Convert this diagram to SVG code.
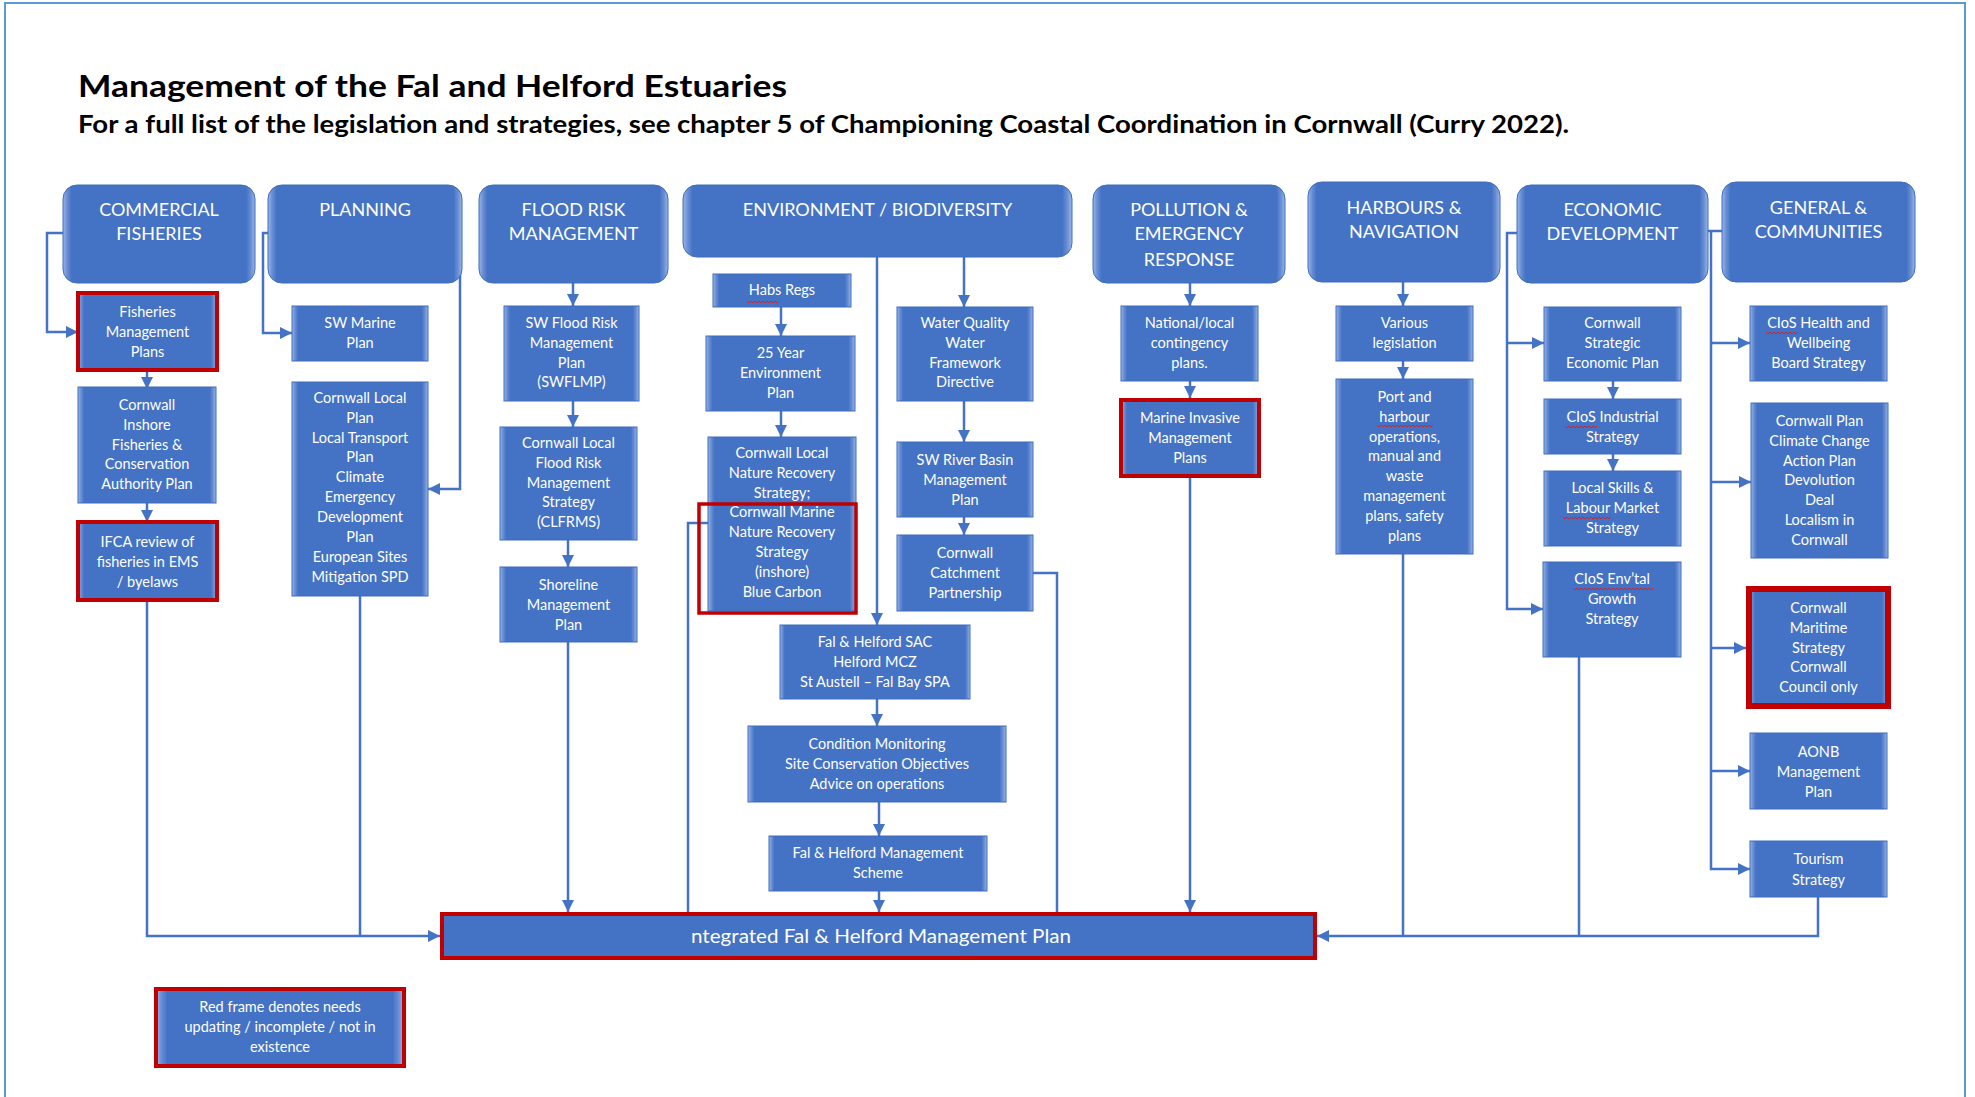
<svg xmlns="http://www.w3.org/2000/svg" width="1975" height="1097" viewBox="0 0 1975 1097">
<defs>
<linearGradient id="bev" x1="0" y1="0" x2="1" y2="0">
<stop offset="0" stop-color="#9DB7E6"/>
<stop offset="0.02" stop-color="#6B91D6"/>
<stop offset="0.045" stop-color="#4472C4"/>
<stop offset="0.955" stop-color="#4472C4"/>
<stop offset="0.98" stop-color="#6B91D6"/>
<stop offset="1" stop-color="#9DB7E6"/>
</linearGradient>
<linearGradient id="bevw" x1="0" y1="0" x2="1" y2="0">
<stop offset="0" stop-color="#9DB7E6"/>
<stop offset="0.012" stop-color="#6B91D6"/>
<stop offset="0.025" stop-color="#4472C4"/>
<stop offset="0.975" stop-color="#4472C4"/>
<stop offset="0.988" stop-color="#6B91D6"/>
<stop offset="1" stop-color="#9DB7E6"/>
</linearGradient>
<marker id="ah" markerUnits="userSpaceOnUse" markerWidth="12" markerHeight="12" viewBox="0 0 10 10" refX="10" refY="5" orient="auto">
<path d="M0,0 L10,5 L0,10 z" fill="#4472C4"/>
</marker>
<style>
.hdr{fill:url(#bev);stroke:#3F6CBB;stroke-width:1}
.box{fill:url(#bev);stroke:#3F6CBB;stroke-width:1}
.wide{fill:url(#bevw)}
.flat{fill:#4472C4}
.red{stroke:#C00000;stroke-width:4}
.red6{stroke:#C00000;stroke-width:6}
.redo{fill:none;stroke:#C00000;stroke-width:3.5}
.ht{font-family:Lato,"Liberation Sans",sans-serif;font-size:18px;fill:#fff;text-anchor:middle}
.bt{font-family:Lato,"Liberation Sans",sans-serif;font-size:14.5px;fill:#fff;text-anchor:middle}
.big{font-size:19.5px;text-anchor:start}
.ttl{font-family:Lato,"Liberation Sans",sans-serif;font-weight:bold;fill:#000}
.ln{fill:none;stroke:#4472C4;stroke-width:2.5}
.ar{marker-end:url(#ah)}
.spell{fill:none;stroke:#E02020;stroke-width:1}
</style>
</defs>
<rect width="1975" height="1097" fill="#fff"/>
<rect x="5" y="3" width="1960" height="1130" fill="none" stroke="#5B9BD5" stroke-width="2"/>
<text class="ttl" x="78" y="97" font-size="30" textLength="709" lengthAdjust="spacingAndGlyphs">Management of the Fal and Helford Estuaries</text>
<text class="ttl" x="78" y="133" font-size="24" textLength="1491" lengthAdjust="spacingAndGlyphs">For a full list of the legislation and strategies, see chapter 5 of Championing Coastal Coordination in Cornwall (Curry 2022).</text>

<g id="connectors">
<path class="ln ar" d="M63,233 H47 V332 H78"/>
<path class="ln ar" d="M147,372 V389"/>
<path class="ln ar" d="M147,503 V522"/>
<path class="ln ar" d="M147,602 V936 H440"/>
<path class="ln" d="M360,596 V936"/>
<path class="ln ar" d="M268,233 H263 V333 H292"/>
<path class="ln ar" d="M460,233 V489 H428"/>
<path class="ln ar" d="M573,283 V306"/>
<path class="ln ar" d="M573,401 V427"/>
<path class="ln ar" d="M568,540 V567"/>
<path class="ln ar" d="M568,642 V912"/>
<path class="ln ar" d="M877,257 V625"/>
<path class="ln ar" d="M964,257 V307"/>
<path class="ln ar" d="M781,307 V336"/>
<path class="ln ar" d="M781,411 V437"/>
<path class="ln" d="M708,523 H688 V913"/>
<path class="ln ar" d="M964,401 V442"/>
<path class="ln ar" d="M964,517 V535"/>
<path class="ln" d="M1033,573 H1057 V913"/>
<path class="ln ar" d="M877,699 V726"/>
<path class="ln ar" d="M879,802 V836"/>
<path class="ln ar" d="M879,891 V912"/>
<path class="ln ar" d="M1190,283 V306"/>
<path class="ln ar" d="M1190,381 V398"/>
<path class="ln ar" d="M1190,478 V912"/>
<path class="ln ar" d="M1403,282 V306"/>
<path class="ln ar" d="M1403,361 V379"/>
<path class="ln" d="M1403,554 V936"/>
<path class="ln ar" d="M1818,897 V936 H1317"/>
<path class="ln" d="M1579,657 V936"/>
<path class="ln ar" d="M1517,233 H1507 V609 H1543"/>
<path class="ln ar" d="M1507,343 H1544"/>
<path class="ln ar" d="M1613,381 V399"/>
<path class="ln ar" d="M1613,454 V471"/>
<path class="ln" d="M1708,231 H1722"/>
<path class="ln ar" d="M1711,231 V869 H1750"/>
<path class="ln ar" d="M1711,343 H1750"/>
<path class="ln ar" d="M1711,482 H1751"/>
<path class="ln ar" d="M1711,648 H1746"/>
<path class="ln ar" d="M1711,771 H1750"/>
</g>

<g id="hdr-commercial"><rect class="hdr" x="63" y="185" width="192" height="98" rx="14"/><text class="ht" x="159" y="215.5">COMMERCIAL</text><text class="ht" x="159" y="239.5">FISHERIES</text></g>
<g id="hdr-planning"><rect class="hdr" x="268" y="185" width="194" height="98" rx="14"/><text class="ht" x="365" y="215.5">PLANNING</text></g>
<g id="hdr-flood"><rect class="hdr" x="479" y="185" width="189" height="98" rx="14"/><text class="ht" x="573.5" y="215.5">FLOOD RISK</text><text class="ht" x="573.5" y="239.5">MANAGEMENT</text></g>
<g id="hdr-env"><rect class="hdr wide" x="683" y="185" width="389" height="72" rx="14"/><text class="ht" x="877.5" y="215.5">ENVIRONMENT / BIODIVERSITY</text></g>
<g id="hdr-pollution"><rect class="hdr" x="1093" y="185" width="192" height="98" rx="14"/><text class="ht" x="1189" y="215.5">POLLUTION &amp;</text><text class="ht" x="1189" y="239.5">EMERGENCY</text><text class="ht" x="1189" y="265.5">RESPONSE</text></g>
<g id="hdr-harbours"><rect class="hdr" x="1308" y="182" width="192" height="100" rx="14"/><text class="ht" x="1404" y="213.5">HARBOURS &amp;</text><text class="ht" x="1404" y="237.5">NAVIGATION</text></g>
<g id="hdr-economic"><rect class="hdr" x="1517" y="185" width="191" height="98" rx="14"/><text class="ht" x="1612.5" y="215.5">ECONOMIC</text><text class="ht" x="1612.5" y="239.5">DEVELOPMENT</text></g>
<g id="hdr-general"><rect class="hdr" x="1722" y="182" width="193" height="100" rx="14"/><text class="ht" x="1818.5" y="213.5">GENERAL &amp;</text><text class="ht" x="1818.5" y="237.5">COMMUNITIES</text></g>

<g id="n-fmp"><rect class="box red" x="78" y="293" width="139" height="77"/><text class="bt" x="147.5" y="317">Fisheries</text><text class="bt" x="147.5" y="337">Management</text><text class="bt" x="147.5" y="357">Plans</text></g>
<g id="n-ifca-plan"><rect class="box" x="78" y="387" width="138" height="116"/><text class="bt" x="147" y="410">Cornwall</text><text class="bt" x="147" y="430">Inshore</text><text class="bt" x="147" y="450">Fisheries &amp;</text><text class="bt" x="147" y="469">Conservation</text><text class="bt" x="147" y="489">Authority Plan</text></g>
<g id="n-ifca-review"><rect class="box red" x="78" y="522" width="139" height="78"/><text class="bt" x="147.5" y="547">IFCA review of</text><text class="bt" x="147.5" y="567">fisheries in EMS</text><text class="bt" x="147.5" y="587">/ byelaws</text></g>

<g id="n-swmp"><rect class="box" x="292" y="306" width="136" height="55"/><text class="bt" x="360" y="328">SW Marine</text><text class="bt" x="360" y="348">Plan</text></g>
<g id="n-clp"><rect class="box" x="292" y="382" width="136" height="214"/><text class="bt" x="360" y="403">Cornwall Local</text><text class="bt" x="360" y="423">Plan</text><text class="bt" x="360" y="443">Local Transport</text><text class="bt" x="360" y="462">Plan</text><text class="bt" x="360" y="482">Climate</text><text class="bt" x="360" y="502">Emergency</text><text class="bt" x="360" y="522">Development</text><text class="bt" x="360" y="542">Plan</text><text class="bt" x="360" y="562">European Sites</text><text class="bt" x="360" y="582">Mitigation SPD</text></g>

<g id="n-swflmp"><rect class="box" x="504" y="306" width="135" height="95"/><text class="bt" x="571.5" y="328">SW Flood Risk</text><text class="bt" x="571.5" y="348">Management</text><text class="bt" x="571.5" y="368">Plan</text><text class="bt" x="571.5" y="387">(SWFLMP)</text></g>
<g id="n-clfrms"><rect class="box" x="500" y="427" width="137" height="113"/><text class="bt" x="568.5" y="448">Cornwall Local</text><text class="bt" x="568.5" y="468">Flood Risk</text><text class="bt" x="568.5" y="488">Management</text><text class="bt" x="568.5" y="507">Strategy</text><text class="bt" x="568.5" y="527">(CLFRMS)</text></g>
<g id="n-smp"><rect class="box" x="500" y="567" width="137" height="75"/><text class="bt" x="568.5" y="590">Shoreline</text><text class="bt" x="568.5" y="610">Management</text><text class="bt" x="568.5" y="630">Plan</text></g>

<g id="n-habs"><rect class="box" x="713" y="274" width="138" height="33"/><text class="bt" x="782" y="295">Habs Regs</text><path class="spell" d="M747,301 l2,2 l2,-2 l2,2 l2,-2 l2,2 l2,-2 l2,2 l2,-2 l2,2 l2,-2 l2,2 l2,-2 l2,2 l2,-2 l2,2 l2,-2"/></g>
<g id="n-25yr"><rect class="box" x="706" y="336" width="149" height="75"/><text class="bt" x="780.5" y="358">25 Year</text><text class="bt" x="780.5" y="378">Environment</text><text class="bt" x="780.5" y="398">Plan</text></g>
<g id="n-lnrs"><rect class="box" x="708" y="437" width="148" height="174"/><text class="bt" x="782" y="458">Cornwall Local</text><text class="bt" x="782" y="478">Nature Recovery</text><text class="bt" x="782" y="498">Strategy;</text><text class="bt" x="782" y="517">Cornwall Marine</text><text class="bt" x="782" y="537">Nature Recovery</text><text class="bt" x="782" y="557">Strategy</text><text class="bt" x="782" y="577">(inshore)</text><text class="bt" x="782" y="597">Blue Carbon</text><rect class="redo" x="699" y="504" width="157" height="109"/></g>
<g id="n-wq"><rect class="box" x="897" y="307" width="136" height="94"/><text class="bt" x="965" y="328">Water Quality</text><text class="bt" x="965" y="348">Water</text><text class="bt" x="965" y="368">Framework</text><text class="bt" x="965" y="387">Directive</text></g>
<g id="n-swrb"><rect class="box" x="897" y="442" width="136" height="75"/><text class="bt" x="965" y="465">SW River Basin</text><text class="bt" x="965" y="485">Management</text><text class="bt" x="965" y="505">Plan</text></g>
<g id="n-ccp"><rect class="box" x="897" y="535" width="136" height="76"/><text class="bt" x="965" y="558">Cornwall</text><text class="bt" x="965" y="578">Catchment</text><text class="bt" x="965" y="598">Partnership</text></g>
<g id="n-sac"><rect class="box wide" x="780" y="625" width="190" height="74"/><text class="bt" x="875" y="647">Fal &amp; Helford SAC</text><text class="bt" x="875" y="667">Helford MCZ</text><text class="bt" x="875" y="687">St Austell – Fal Bay SPA</text></g>
<g id="n-cm"><rect class="box wide" x="748" y="726" width="258" height="76"/><text class="bt" x="877" y="749">Condition Monitoring</text><text class="bt" x="877" y="769">Site Conservation Objectives</text><text class="bt" x="877" y="789">Advice on operations</text></g>
<g id="n-fhms"><rect class="box wide" x="769" y="836" width="218" height="55"/><text class="bt" x="878" y="858">Fal &amp; Helford Management</text><text class="bt" x="878" y="878">Scheme</text></g>

<g id="n-ncp"><rect class="box" x="1121" y="306" width="137" height="75"/><text class="bt" x="1189.5" y="328">National/local</text><text class="bt" x="1189.5" y="348">contingency</text><text class="bt" x="1189.5" y="368">plans.</text></g>
<g id="n-mimp"><rect class="box red" x="1121" y="400" width="138" height="76"/><text class="bt" x="1190" y="423">Marine Invasive</text><text class="bt" x="1190" y="443">Management</text><text class="bt" x="1190" y="463">Plans</text></g>

<g id="n-various"><rect class="box" x="1336" y="306" width="137" height="55"/><text class="bt" x="1404.5" y="328">Various</text><text class="bt" x="1404.5" y="348">legislation</text></g>
<g id="n-port"><rect class="box" x="1336" y="379" width="137" height="175"/><text class="bt" x="1404.5" y="402">Port and</text><text class="bt" x="1404.5" y="422">harbour</text><text class="bt" x="1404.5" y="442">operations,</text><text class="bt" x="1404.5" y="461">manual and</text><text class="bt" x="1404.5" y="481">waste</text><text class="bt" x="1404.5" y="501">management</text><text class="bt" x="1404.5" y="521">plans, safety</text><text class="bt" x="1404.5" y="541">plans</text><path class="spell" d="M1377,425 l2,2 l2,-2 l2,2 l2,-2 l2,2 l2,-2 l2,2 l2,-2 l2,2 l2,-2 l2,2 l2,-2 l2,2 l2,-2 l2,2 l2,-2 l2,2 l2,-2 l2,2 l2,-2 l2,2 l2,-2 l2,2 l2,-2 l2,2 l2,-2 l2,2 l2,-2"/></g>

<g id="n-sep"><rect class="box" x="1544" y="307" width="137" height="74"/><text class="bt" x="1612.5" y="328">Cornwall</text><text class="bt" x="1612.5" y="348">Strategic</text><text class="bt" x="1612.5" y="368">Economic Plan</text></g>
<g id="n-ind"><rect class="box" x="1544" y="399" width="137" height="55"/><text class="bt" x="1612.5" y="422">CIoS Industrial</text><text class="bt" x="1612.5" y="442">Strategy</text><path class="spell" d="M1565,426 l2,2 l2,-2 l2,2 l2,-2 l2,2 l2,-2 l2,2 l2,-2 l2,2 l2,-2 l2,2 l2,-2 l2,2 l2,-2 l2,2 l2,-2"/></g>
<g id="n-skills"><rect class="box" x="1544" y="471" width="137" height="75"/><text class="bt" x="1612.5" y="493">Local Skills &amp;</text><text class="bt" x="1612.5" y="513">Labour Market</text><text class="bt" x="1612.5" y="533">Strategy</text><path class="spell" d="M1563,517 l2,2 l2,-2 l2,2 l2,-2 l2,2 l2,-2 l2,2 l2,-2 l2,2 l2,-2 l2,2 l2,-2 l2,2 l2,-2 l2,2 l2,-2 l2,2 l2,-2 l2,2 l2,-2 l2,2 l2,-2 l2,2 l2,-2"/></g>
<g id="n-envtal"><rect class="box" x="1543" y="562" width="138" height="95"/><text class="bt" x="1612" y="584">CIoS Env’tal</text><text class="bt" x="1612" y="604">Growth</text><text class="bt" x="1612" y="624">Strategy</text><path class="spell" d="M1573,588 l2,2 l2,-2 l2,2 l2,-2 l2,2 l2,-2 l2,2 l2,-2 l2,2 l2,-2 l2,2 l2,-2 l2,2 l2,-2 l2,2 l2,-2 l2,2 l2,-2 l2,2 l2,-2 l2,2 l2,-2 l2,2 l2,-2 l2,2 l2,-2 l2,2 l2,-2 l2,2 l2,-2 l2,2 l2,-2 l2,2 l2,-2 l2,2 l2,-2 l2,2 l2,-2 l2,2 l2,-2"/></g>

<g id="n-health"><rect class="box" x="1750" y="306" width="137" height="75"/><text class="bt" x="1818.5" y="328">CIoS Health and</text><text class="bt" x="1818.5" y="348">Wellbeing</text><text class="bt" x="1818.5" y="368">Board Strategy</text><path class="spell" d="M1766,332 l2,2 l2,-2 l2,2 l2,-2 l2,2 l2,-2 l2,2 l2,-2 l2,2 l2,-2 l2,2 l2,-2 l2,2 l2,-2 l2,2 l2,-2"/></g>
<g id="n-cplan"><rect class="box" x="1751" y="403" width="137" height="155"/><text class="bt" x="1819.5" y="426">Cornwall Plan</text><text class="bt" x="1819.5" y="446">Climate Change</text><text class="bt" x="1819.5" y="466">Action Plan</text><text class="bt" x="1819.5" y="485">Devolution</text><text class="bt" x="1819.5" y="505">Deal</text><text class="bt" x="1819.5" y="525">Localism in</text><text class="bt" x="1819.5" y="545">Cornwall</text></g>
<g id="n-maritime"><rect class="box red6" x="1749" y="589" width="139" height="117"/><text class="bt" x="1818.5" y="613">Cornwall</text><text class="bt" x="1818.5" y="633">Maritime</text><text class="bt" x="1818.5" y="653">Strategy</text><text class="bt" x="1818.5" y="672">Cornwall</text><text class="bt" x="1818.5" y="692">Council only</text></g>
<g id="n-aonb"><rect class="box" x="1750" y="733" width="137" height="76"/><text class="bt" x="1818.5" y="757">AONB</text><text class="bt" x="1818.5" y="777">Management</text><text class="bt" x="1818.5" y="797">Plan</text></g>
<g id="n-tourism"><rect class="box" x="1750" y="841" width="137" height="56"/><text class="bt" x="1818.5" y="864">Tourism</text><text class="bt" x="1818.5" y="885">Strategy</text></g>

<g id="n-integrated"><rect class="box flat red" x="442" y="914" width="873" height="44"/><text class="bt big" x="691" y="943" textLength="380" lengthAdjust="spacingAndGlyphs">ntegrated Fal &amp; Helford Management Plan</text></g>
<g id="n-legend"><rect class="box red" x="156" y="989" width="248" height="77"/><text class="bt" x="280" y="1012">Red frame denotes needs</text><text class="bt" x="280" y="1032">updating / incomplete / not in</text><text class="bt" x="280" y="1052">existence</text></g>
</svg>
